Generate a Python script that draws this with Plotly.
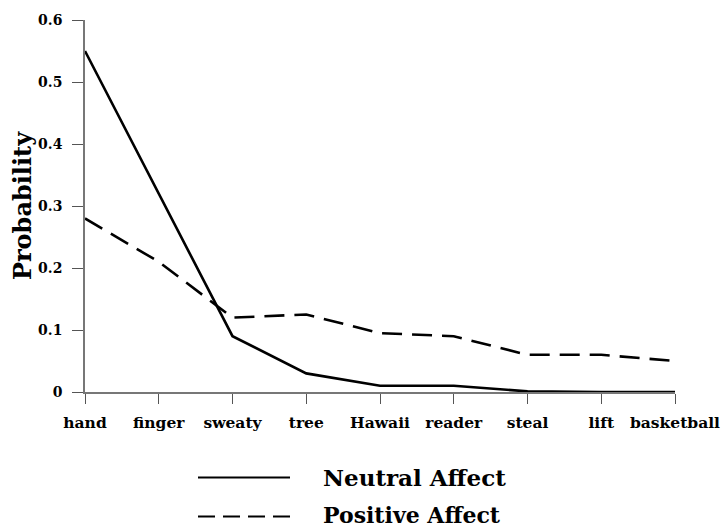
import plotly.graph_objects as go

categories = ["hand", "finger", "sweaty", "tree", "Hawaii", "reader", "steal", "lift", "basketball"]
neutral = [0.55, 0.32, 0.09, 0.03, 0.01, 0.01, 0.001, 0.0, 0.0]
positive = [0.28, 0.21, 0.12, 0.125, 0.095, 0.09, 0.06, 0.06, 0.05]
y_ticks = [0, 0.1, 0.2, 0.3, 0.4, 0.5, 0.6]
y_tick_labels = ["0", "0.1", "0.2", "0.3", "0.4", "0.5", "0.6"]
series_names = ["Neutral Affect", "Positive Affect"]

FONT = "DejaVu Serif"
W, H = 723, 528
PL, PR, PT, PB = 85, 675, 20, 392  # plot area in page pixels
L, T = PL, PT
pw, ph = PR - PL, PB - PT
R, B = W - L - pw, H - T - ph

fig = go.Figure()
fig.add_trace(go.Scatter(x=list(range(len(categories))), y=neutral, mode="lines",
                         line=dict(color="black", width=2.6), name=series_names[0], showlegend=False))
fig.add_trace(go.Scatter(x=list(range(len(categories))), y=positive, mode="lines",
                         line=dict(color="black", width=2.6, dash="20px,10px"), name=series_names[1], showlegend=False))

def px_x(p):
    return (p - PL) / pw

def px_y(p):
    return (PB - p) / ph

# custom legend
legend_rows = [(477.5, 477.5, 23), (514.5, 516.5, 22)]
for (name, dash, (ytext, yline, fsize)) in zip(series_names, ["solid", "17px,8px"], legend_rows):
    fig.add_shape(type="line", xref="paper", yref="paper", x0=px_x(198), x1=px_x(290),
                  y0=px_y(yline), y1=px_y(yline),
                  line=dict(color="black", width=2, dash=dash))
    fig.add_annotation(xref="paper", yref="paper", x=px_x(321), y=px_y(ytext), text="<b>%s</b>" % name,
                       showarrow=False, xanchor="left", yanchor="middle",
                       font=dict(family=FONT, size=fsize, color="black"))

fig.update_layout(
    width=W, height=H,
    margin=dict(l=L, r=R, t=T, b=B, autoexpand=False),
    plot_bgcolor="white", paper_bgcolor="white",
    font=dict(family=FONT, color="black"),
    showlegend=False,
)
fig.update_xaxes(
    range=[0, len(categories) - 1], tickmode="array", tickvals=list(range(len(categories))),
    ticktext=["<b>%s</b>" % c for c in categories], automargin=False,
    ticks="outside", ticklen=10, tickcolor="#555", tickwidth=1,
    showline=True, linecolor="#777", linewidth=1.5, showgrid=False, zeroline=False,
    tickfont=dict(family=FONT, size=15.5, color="black"), ticklabelstandoff=6,
)
fig.update_yaxes(
    range=[0, 0.6], tickmode="array", tickvals=y_ticks,
    ticktext=["<b>%s</b>" % t for t in y_tick_labels], automargin=False,
    ticks="outside", ticklen=11, tickcolor="#555", tickwidth=1,
    showline=True, linecolor="#777", linewidth=1.5, showgrid=False, zeroline=False,
    tickfont=dict(family=FONT, size=14, color="black"), ticklabelstandoff=7,
    title=dict(text="<b>Probability</b>", font=dict(family=FONT, size=24, color="black"), standoff=0),
)
fig.write_html("out.html", config={"displayModeBar": False},
               post_script="document.body.style.margin='0';document.body.style.overflow='hidden';")
